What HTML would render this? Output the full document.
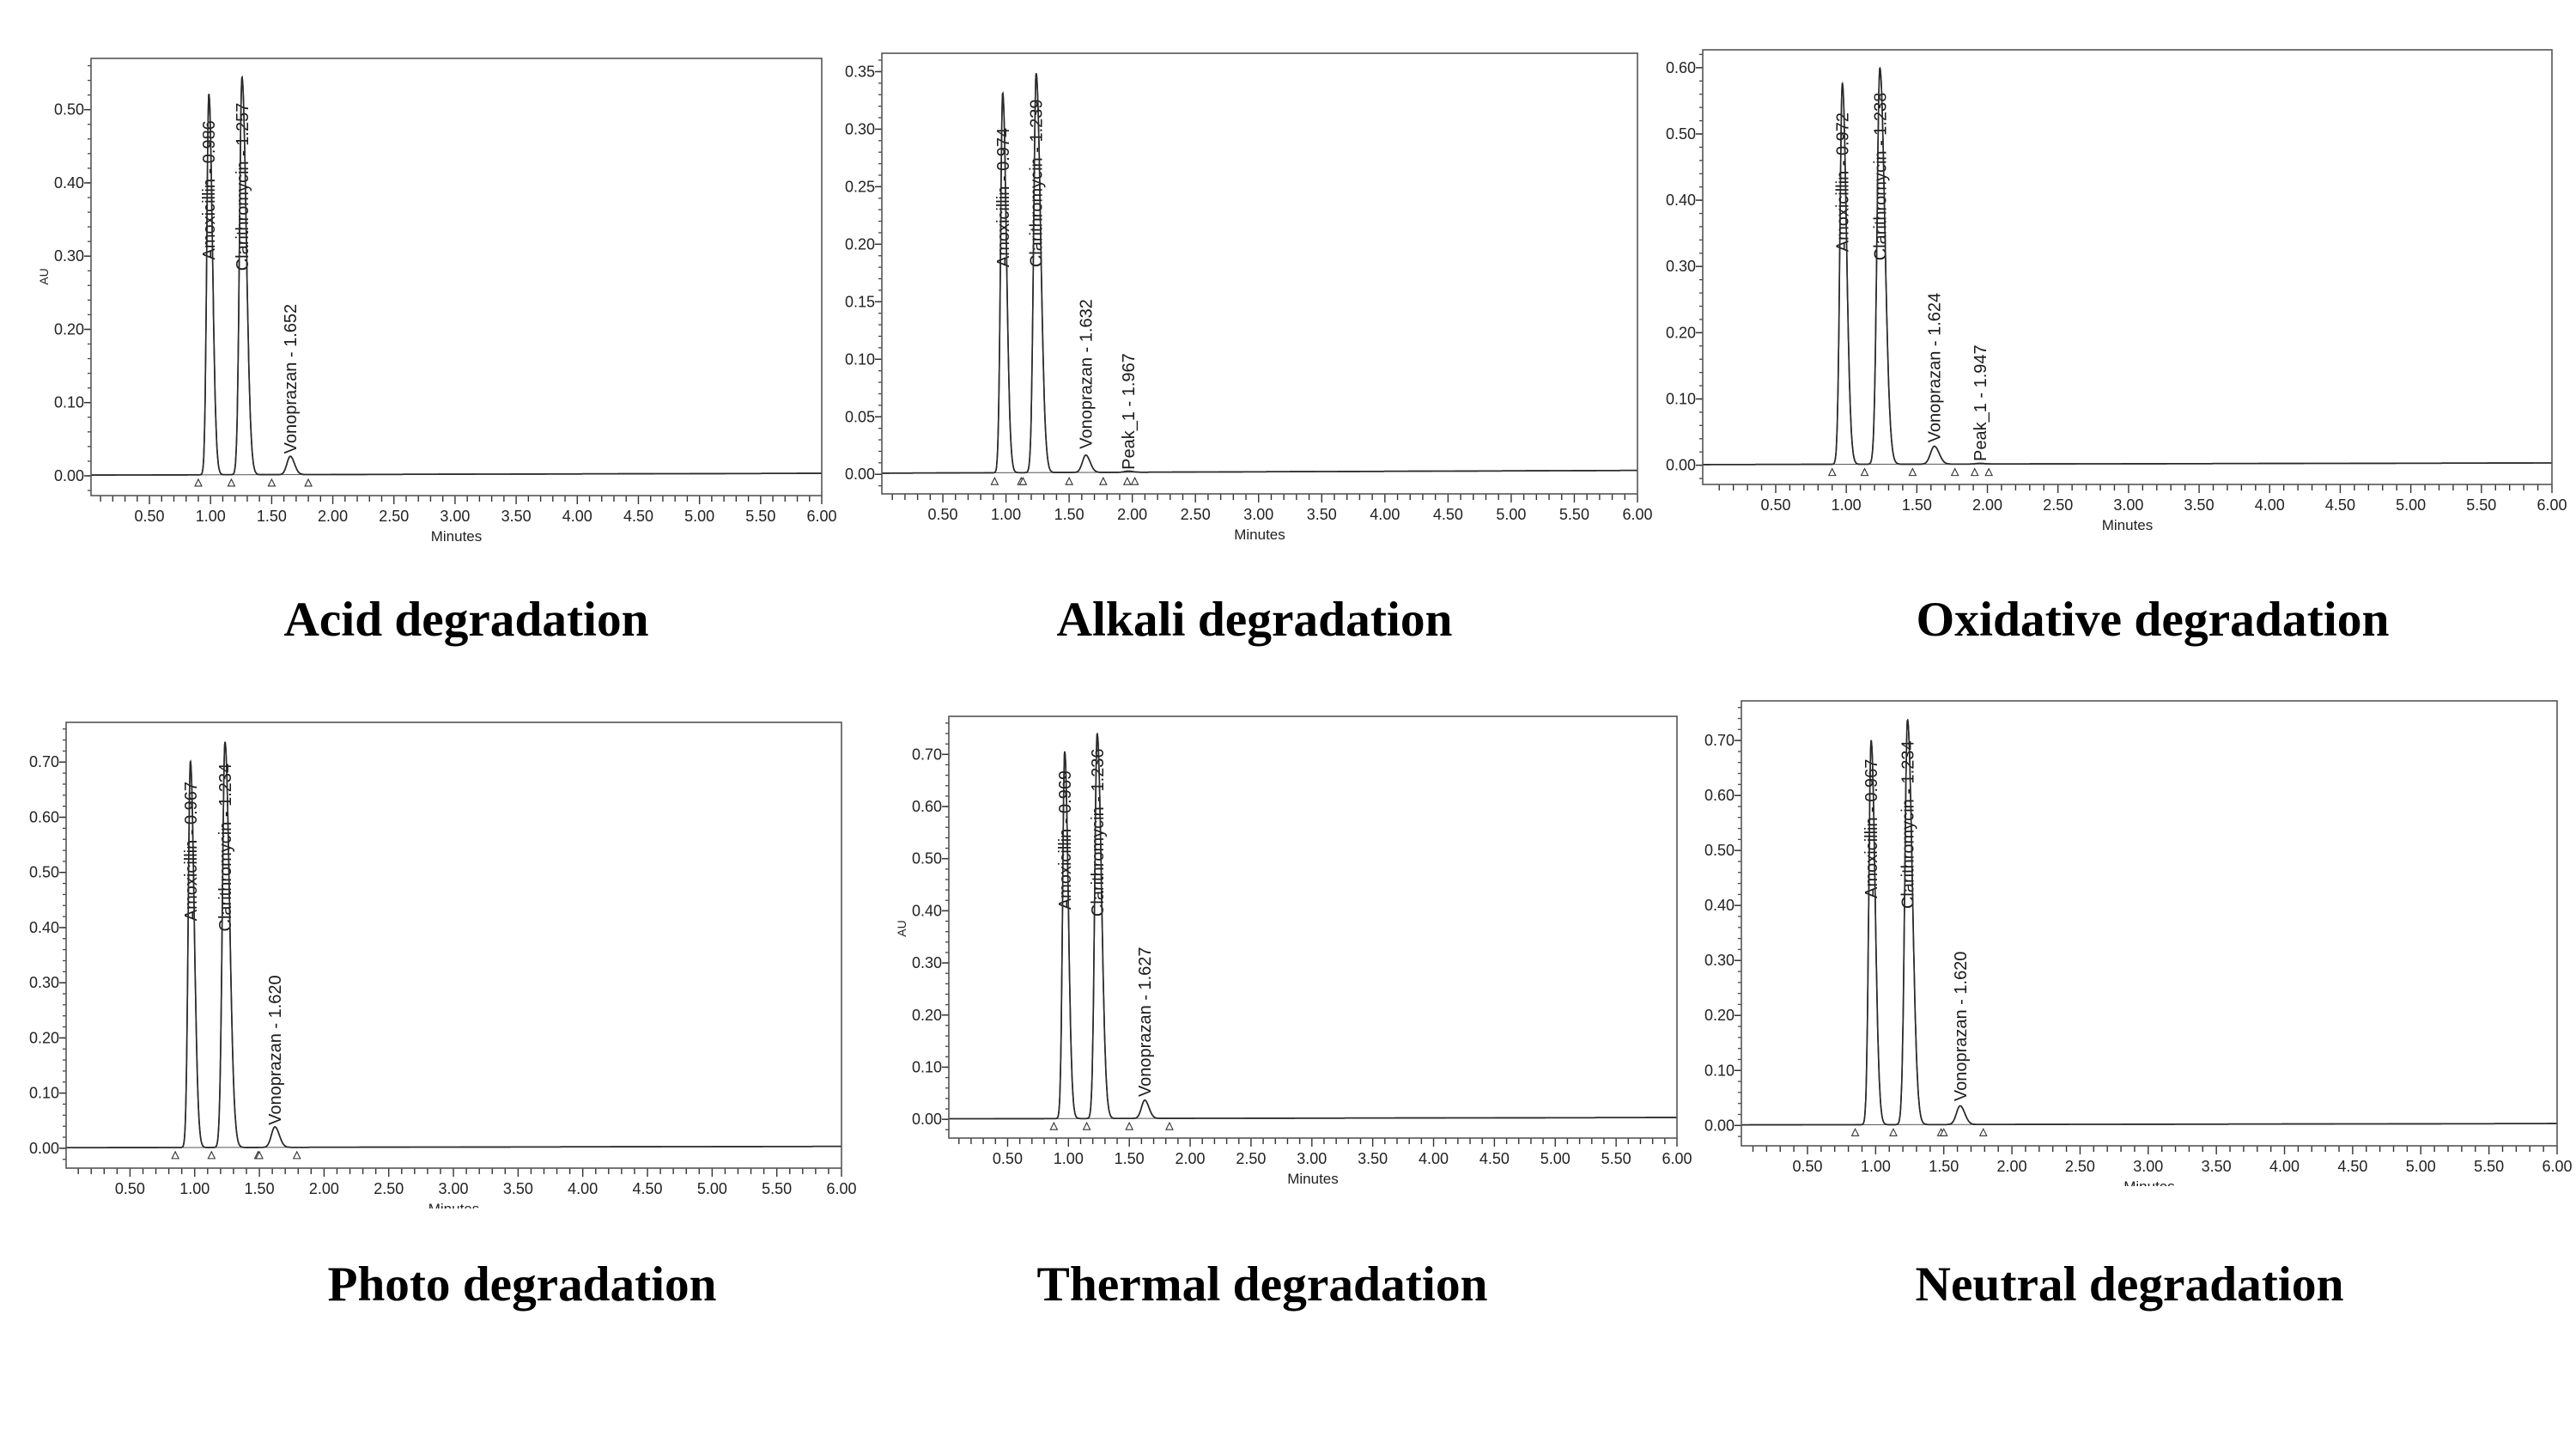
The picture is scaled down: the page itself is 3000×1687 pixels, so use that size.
<!DOCTYPE html>
<html><head><meta charset="utf-8"><style>
html,body{margin:0;padding:0;background:#fff;}
svg{display:block;}
</style></head><body>
<svg id="fig" xmlns="http://www.w3.org/2000/svg" width="3000" height="1687" viewBox="0 0 3000 1687">
<rect x="0" y="0" width="3000" height="1687" fill="#fff"/>
</svg>
<script>
// ---- data ----
const chartTitles = ["Acid degradation","Alkali degradation","Oxidative degradation","Photo degradation","Thermal degradation","Neutral degradation"];
const xTickValues = [0.5,1,1.5,2,2.5,3,3.5,4,4.5,5,5.5,6];

const acidNames = ["Amoxicillin","Clarithromycin","Vonoprazan"];
const acidRT = [0.986,1.257,1.652];
const acidHeights = [0.52,0.543,0.025];
const acidLabelY = [0.295,0.28,0.03];
const acidMarkers = [0.90,1.17,1.50,1.80];

const alkaliNames = ["Amoxicillin","Clarithromycin","Vonoprazan","Peak_1"];
const alkaliRT = [0.974,1.239,1.632,1.967];
const alkaliHeights = [0.330,0.347,0.015,0.001];
const alkaliLabelY = [0.18,0.18,0.022,0.004];
const alkaliMarkers = [0.91,1.12,1.135,1.50,1.77,1.96,2.02];

const oxidNames = ["Amoxicillin","Clarithromycin","Vonoprazan","Peak_1"];
const oxidRT = [0.972,1.238,1.624,1.947];
const oxidHeights = [0.575,0.598,0.027,0.001];
const oxidLabelY = [0.322,0.309,0.034,0.006];
const oxidMarkers = [0.90,1.13,1.47,1.77,1.91,2.01];

const photoNames = ["Amoxicillin","Clarithromycin","Vonoprazan"];
const photoRT = [0.967,1.234,1.620];
const photoHeights = [0.70,0.735,0.037];
const photoLabelY = [0.412,0.393,0.042];
const photoMarkers = [0.85,1.13,1.49,1.50,1.79];

const thermNames = ["Amoxicillin","Clarithromycin","Vonoprazan"];
const thermRT = [0.969,1.236,1.627];
const thermHeights = [0.704,0.738,0.035];
const thermLabelY = [0.402,0.389,0.043];
const thermMarkers = [0.88,1.15,1.50,1.83];

const neutNames = ["Amoxicillin","Clarithromycin","Vonoprazan"];
const neutRT = [0.967,1.234,1.620];
const neutHeights = [0.699,0.736,0.034];
const neutLabelY = [0.413,0.394,0.044];
const neutMarkers = [0.85,1.13,1.48,1.50,1.79];

const yMaxTick = [0.5,0.35,0.6,0.7,0.7,0.7];
const yStep = [0.1,0.05,0.1,0.1,0.1,0.1];

// ---- layout (pixels) ----
const layouts = [
 {L:106,T:68,R:957,B:577, xmin:0.022, ymin:-0.027, ymax:0.570, title:[543,740,425], au:[56,322], cut:null},
 {L:1027,T:62,R:1907,B:575, xmin:0.017, ymin:-0.017, ymax:0.366, title:[1461,740,461], au:null, cut:null},
 {L:1983,T:58,R:2972,B:564, xmin:-0.017, ymin:-0.029, ymax:0.627, title:[2507,740,551], au:null, cut:null},
 {L:77,T:841,R:980,B:1360, xmin:0.006, ymin:-0.036, ymax:0.772, title:[608,1514,453], au:null, cut:1407},
 {L:1105,T:834,R:1953,B:1325, xmin:0.017, ymin:-0.036, ymax:0.773, title:[1470,1514,525], au:[1055,1081], cut:null},
 {L:2028,T:816,R:2978,B:1334, xmin:0.015, ymin:-0.037, ymax:0.772, title:[2480,1514,499], au:null, cut:1381}
];
const names=[acidNames,alkaliNames,oxidNames,photoNames,thermNames,neutNames];
const rts=[acidRT,alkaliRT,oxidRT,photoRT,thermRT,neutRT];
const heights=[acidHeights,alkaliHeights,oxidHeights,photoHeights,thermHeights,neutHeights];
const labelYs=[acidLabelY,alkaliLabelY,oxidLabelY,photoLabelY,thermLabelY,neutLabelY];
const markers=[acidMarkers,alkaliMarkers,oxidMarkers,photoMarkers,thermMarkers,neutMarkers];
const chartKeys=["acid","alkali","oxidative","photo","thermal","neutral"];

const NS="http://www.w3.org/2000/svg";
const svg=document.getElementById('fig');
function mk(tag,attrs,parent){const e=document.createElementNS(NS,tag);for(const k in attrs)e.setAttribute(k,attrs[k]);(parent||svg).appendChild(e);return e;}

function widths(name){ if(name==="Amoxicillin")return[0.017,0.029]; if(name==="Clarithromycin")return[0.02,0.035]; return[0.027,0.034]; }

layouts.forEach((lay,ci)=>{
  const g=mk('g',{});
  
  
  const xs=v=>lay.L+(v-lay.xmin)/(6-lay.xmin)*(lay.R-lay.L);
  const ys=v=>lay.B-(v-lay.ymin)/(lay.ymax-lay.ymin)*(lay.B-lay.T);

  const yAxis=mk('g',{},g);
  
  
  const minor=yStep[ci]/5;
  for(let v=Math.ceil(lay.ymin/minor)*minor; v<=lay.ymax+1e-9; v+=minor){
    const y=ys(v);
    mk('line',{x1:lay.L-4,x2:lay.L,y1:y,y2:y,stroke:'#444','stroke-width':1.3},yAxis);
  }
  for(let v=0; v<=yMaxTick[ci]+1e-9; v+=yStep[ci]){
    const y=ys(v);
    mk('line',{x1:lay.L-8,x2:lay.L,y1:y,y2:y,stroke:'#333','stroke-width':1.5},yAxis);
    const t=mk('text',{x:lay.L-8,y:y+6,'text-anchor':'end','font-family':'"Liberation Sans Narrow","Liberation Sans",sans-serif','font-size':18,fill:'#222'},yAxis);
    t.textContent=v.toFixed(2);
    
    
  }
  const xAxis=mk('g',{},g);
  
  
  for(let k=1;k<=60;k++){
    const v=k/10; const x=xs(v); const major=(k%5===0);
    mk('line',{x1:x,x2:x,y1:lay.B,y2:lay.B+(major?10:7),stroke:'#333','stroke-width':1.4},xAxis);
  }
  xTickValues.forEach(v=>{
    const t=mk('text',{x:xs(v),y:lay.B+30,'text-anchor':'middle','font-family':'"Liberation Sans Narrow","Liberation Sans",sans-serif','font-size':18,fill:'#222'},xAxis);
    t.textContent=v.toFixed(2);
    
    
  });
  const mt=mk('text',{x:(lay.L+lay.R)/2,y:lay.B+53,'text-anchor':'middle','font-family':'"Liberation Sans Narrow","Liberation Sans",sans-serif','font-size':17,fill:'#222'},g);
  mt.textContent='Minutes';
  
  
  if(lay.cut){ mk('rect',{x:lay.L,y:lay.cut,width:lay.R-lay.L,height:40,fill:'#fff'},g); }
  if(lay.au){
    const au=mk('text',{x:lay.au[0],y:lay.au[1],'text-anchor':'middle','font-family':'"Liberation Sans",sans-serif','font-size':14,fill:'#222',transform:`rotate(-90 ${lay.au[0]} ${lay.au[1]})`},g);
    au.textContent='AU';
    
    
  }

  const R=rts[ci], H=heights[ci], N=names[ci];
  let d='';
  for(let x=lay.xmin; x<=6.0001; x+=0.002){
    let v=0.001+0.0004*x;
    for(let i=0;i<R.length;i++){
      const [sl,sr]=widths(N[i]); const s=x<R[i]?sl:sr;
      v+=H[i]*Math.exp(-0.5*Math.pow((x-R[i])/s,2));
    }
    d+=(d?'L':'M')+xs(x).toFixed(1)+' '+ys(v).toFixed(1);
  }
  const M=markers[ci];
  for(let i=0;i+1<M.length;i+=1){
    mk('line',{x1:xs(M[i]),x2:xs(M[i+1]),y1:ys(0.001+0.0004*M[i]),y2:ys(0.001+0.0004*M[i+1]),stroke:'#555','stroke-width':1},g);
  }
  const path=mk('path',{d:d,fill:'none',stroke:'#2a2a2a','stroke-width':1.6},g);
  
  

  M.forEach(m=>{
    const x=xs(m), y=ys(0)+4;
    const tri=mk('path',{d:`M${x-4} ${y+8}L${x+4} ${y+8}L${x} ${y}Z`,fill:'#fff',stroke:'#333','stroke-width':1.1},g);
    
    
  });

  R.forEach((rt,i)=>{
    const x=xs(rt)+7, y=ys(labelYs[ci][i]);
    const t=mk('text',{x:x,y:y,'font-family':'"Liberation Sans",sans-serif','font-size':20,fill:'#1a1a1a',transform:`rotate(-90 ${x} ${y})`},g);
    t.textContent=N[i]+' - '+rt.toFixed(3);
    
    
  });
  mk('path',{d:d,fill:'none',stroke:'#2a2a2a','stroke-width':1.6},g);

  const fr=mk('rect',{x:lay.L,y:lay.T,width:lay.R-lay.L,height:lay.B-lay.T,fill:'none',stroke:'#555','stroke-width':1.6},g);
  
  

  const tt=mk('text',{x:lay.title[0],y:lay.title[1],'text-anchor':'middle','font-family':'"Liberation Serif",serif','font-weight':'bold','font-size':57,fill:'#000',textLength:lay.title[2],lengthAdjust:'spacingAndGlyphs'},g);
  tt.textContent=chartTitles[ci];
  
  
});
</script>
</body></html>
